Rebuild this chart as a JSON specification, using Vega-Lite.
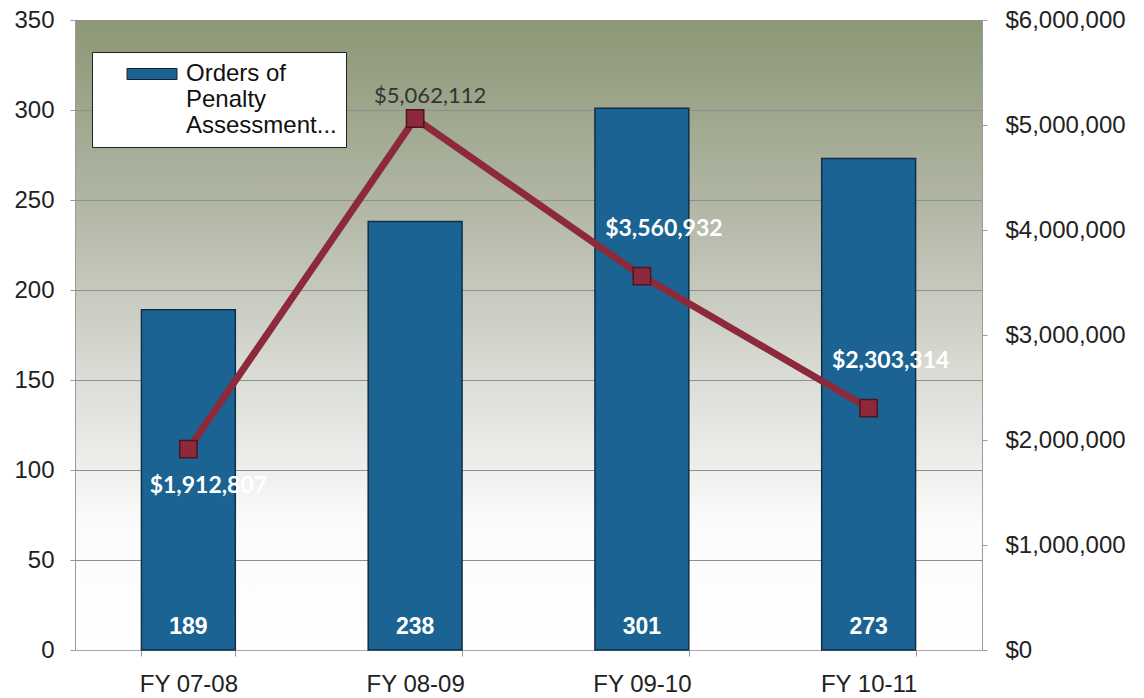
{
  "$schema": "https://vega.github.io/schema/vega-lite/v6.json",
  "width": 907,
  "height": 630,
  "autosize": {"type": "none"},
  "padding": {"left": 75, "top": 20, "right": 162, "bottom": 48},
  "background": "white",
  "data": {
    "values": [
      {"fy": "FY 07-08", "orders": 189, "penalty": 1912807},
      {"fy": "FY 08-09", "orders": 238, "penalty": 5062112},
      {"fy": "FY 09-10", "orders": 301, "penalty": 3560932},
      {"fy": "FY 10-11", "orders": 273, "penalty": 2303314}
    ]
  },
  "config": {
    "view": {
      "stroke": null,
      "fill": {
        "gradient": "linear", "x1": 0, "y1": 0, "x2": 0, "y2": 1,
        "stops": [
          {"offset": 0, "color": "#8b9876"},
          {"offset": 0.3, "color": "#b2b7a6"},
          {"offset": 0.55, "color": "#d8dad3"},
          {"offset": 0.8, "color": "#fbfbfb"},
          {"offset": 1, "color": "#ffffff"}
        ]
      }
    },
    "axis": {
      "labelFont": "Liberation Sans",
      "labelFontSize": 24,
      "labelColor": "#222222",
      "domainColor": "#9a9a9a",
      "tickColor": "#9a9a9a",
      "gridColor": "#8f8f8f"
    }
  },
  "encoding": {
    "x": {
      "field": "fy", "type": "nominal", "sort": null,
      "scale": {"paddingInner": 0.586, "paddingOuter": 0.293},
      "axis": {"title": null, "labelAngle": 0, "tickBand": "extent", "tickSize": 6, "labelPadding": 16, "grid": false, "domainColor": "#b0a0b0"}
    }
  },
  "layer": [
    {
      "layer": [
        {
          "mark": {"type": "bar", "color": "#1b6393", "stroke": "#0f2f46", "strokeWidth": 1.5},
          "encoding": {
            "y": {
              "field": "orders", "type": "quantitative",
              "scale": {"domain": [0, 350]},
              "axis": {"orient": "left", "title": null, "values": [0, 50, 100, 150, 200, 250, 300, 350], "grid": true, "tickSize": 5, "labelPadding": 16}
            },
            "color": {
              "datum": "Orders of Penalty Assessment...",
              "scale": {"range": ["#1b6393"]},
              "legend": {
                "title": null,
                "orient": "none",
                "legendX": 17,
                "legendY": 32,
                "fillColor": "white",
                "strokeColor": "#222222",
                "padding": 9,
                "symbolType": "M-2,-0.44H2V0.44H-2Z",
                "symbolSize": 625,
                "symbolOffset": 38,
                "symbolStrokeColor": "#222222",
                "symbolStrokeWidth": 1,
                "symbolOpacity": 1,
                "labelFont": "Liberation Sans",
                "labelFontSize": 24,
                "labelColor": "#111111",
                "labelLimit": 0,
                "labelOffset": 21,
                "labelExpr": "['Orders of', 'Penalty', 'Assessment...']"
              }
            }
          }
        },
        {
          "mark": {"type": "text", "color": "white", "font": "Liberation Sans", "fontWeight": "bold", "fontSize": 23, "dy": -23, "baseline": "middle"},
          "encoding": {
            "y": {"datum": 0, "type": "quantitative"},
            "text": {"field": "orders", "type": "quantitative"}
          }
        }
      ]
    },
    {
      "layer": [
        {
          "mark": {"type": "line", "color": "#8c2a3b", "strokeWidth": 7},
          "encoding": {
            "y": {
              "field": "penalty", "type": "quantitative",
              "scale": {"domain": [0, 6000000]},
              "axis": {"orient": "right", "title": null, "values": [0, 1000000, 2000000, 3000000, 4000000, 5000000, 6000000], "format": "$,.0f", "grid": false, "tickSize": 5, "labelPadding": 18}
            }
          }
        },
        {
          "mark": {"type": "point", "shape": "square", "filled": true, "size": 300, "color": "#8c2a3b", "stroke": "#4f1420", "strokeWidth": 1.5, "opacity": 1},
          "encoding": {
            "y": {"field": "penalty", "type": "quantitative"}
          }
        },
        {
          "transform": [{"filter": "datum.fy == 'FY 07-08'"}],
          "mark": {"type": "text", "color": "white", "font": "Lato", "fontWeight": "bold", "fontSize": 23, "dx": 20, "dy": 37},
          "encoding": {
            "y": {"field": "penalty", "type": "quantitative"},
            "text": {"field": "penalty", "type": "quantitative", "format": "$,.0f"}
          }
        },
        {
          "transform": [{"filter": "datum.fy == 'FY 08-09'"}],
          "mark": {"type": "text", "color": "#333333", "font": "Lato", "fontSize": 22, "dx": 15, "dy": -22},
          "encoding": {
            "y": {"field": "penalty", "type": "quantitative"},
            "text": {"field": "penalty", "type": "quantitative", "format": "$,.0f"}
          }
        },
        {
          "transform": [{"filter": "datum.fy == 'FY 09-10' || datum.fy == 'FY 10-11'"}],
          "mark": {"type": "text", "color": "white", "font": "Lato", "fontWeight": "bold", "fontSize": 23, "dx": 22, "dy": -47},
          "encoding": {
            "y": {"field": "penalty", "type": "quantitative"},
            "text": {"field": "penalty", "type": "quantitative", "format": "$,.0f"}
          }
        }
      ]
    }
  ],
  "resolve": {"scale": {"y": "independent", "color": "independent"}}
}
